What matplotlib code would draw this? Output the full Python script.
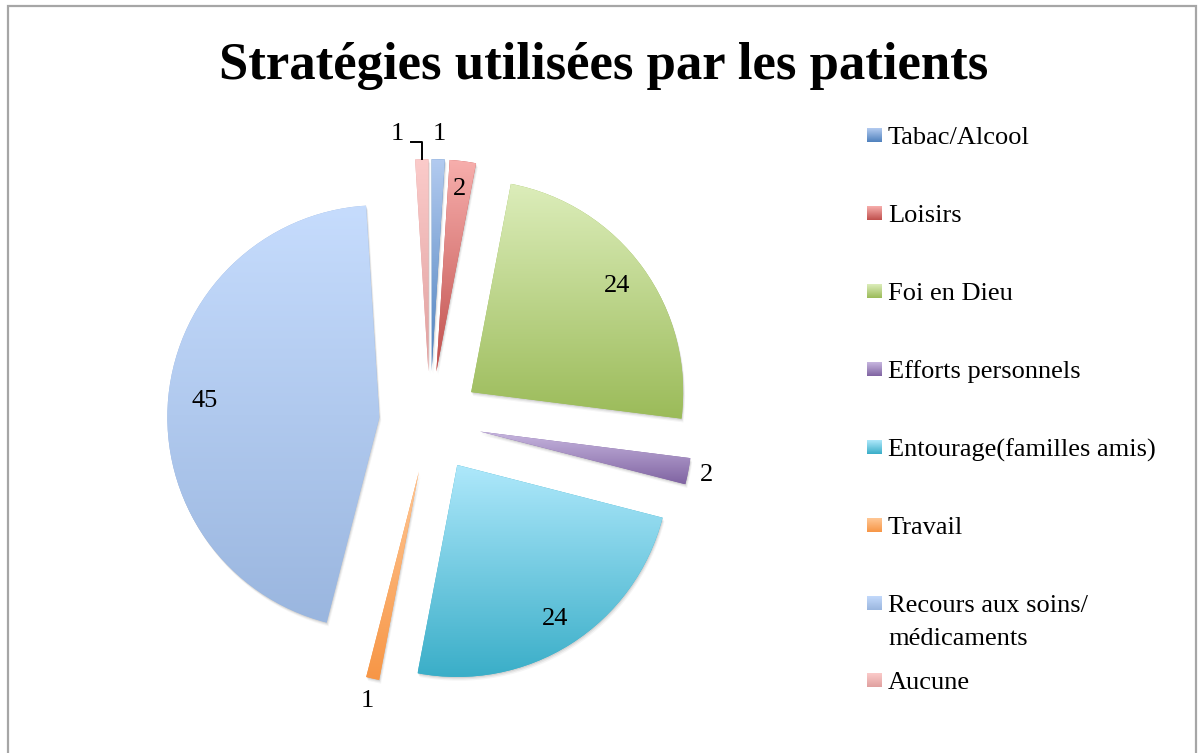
import numpy as np
import matplotlib
matplotlib.use("Agg")
import matplotlib.pyplot as plt
from matplotlib.patches import Wedge, Rectangle
from matplotlib.colors import LinearSegmentedColormap

# data
categories = ["Tabac/Alcool", "Loisirs", "Foi en Dieu", "Efforts personnels",
              "Entourage(familles amis)", "Travail",
              "Recours aux soins/\nmédicaments", "Aucune"]
values = [1, 2, 24, 2, 24, 1, 45, 1]

# gradient colours (top, bottom) for each slice
top_colors = ["#b3cbf0", "#f7aeac", "#dcedba", "#c7b6df", "#aee8fb", "#ffc795", "#c6dcfd", "#fbcbca"]
bottom_colors = ["#4f81bd", "#c0504d", "#9bbb59", "#8064a2", "#3aaec8", "#f79646", "#9ab6df", "#e0a09f"]

W, H = 1200, 753
R = 212.0            # pie radius in pixels
CX, CY = 430, 422    # pie centre in pixels (from top-left)
FONT = "Liberation Serif"

fig = plt.figure(figsize=(W / 100, H / 100), dpi=100)
ax = fig.add_axes([0, 0, 1, 1])

def fx(x):
    return x / W

def fy(y):
    return 1 - y / H

wedges, _ = ax.pie(values, startangle=90, counterclock=False, radius=1,
                   explode=[0.24] * len(values),
                   wedgeprops=dict(linewidth=0))

for i, w in enumerate(wedges):
    # soft shadow
    for k, a in [(0.018, 0.04), (0.012, 0.06), (0.006, 0.08)]:
        sh = Wedge((w.center[0] + k * 0.5, w.center[1] - k), w.r, w.theta1, w.theta2,
                   facecolor="black", alpha=a, linewidth=0, zorder=0.5)
        ax.add_patch(sh)
    w.set_facecolor(bottom_colors[i])
    w.set_zorder(1)
    ext = w.get_path().get_extents()
    cmap = LinearSegmentedColormap.from_list("g%d" % i, [bottom_colors[i], top_colors[i]])
    grad = np.linspace(0, 1, 256).reshape(-1, 1)
    im = ax.imshow(grad, extent=[ext.x0, ext.x1, ext.y0, ext.y1], origin="lower",
                   cmap=cmap, aspect="auto", zorder=2, interpolation="bilinear")
    im.set_clip_path(w)

# data labels
label_dist = [1.12, 0.87, 0.85, 1.09, 0.86, 1.11, 0.83, 1.13]
label_shift = [0, 0, 0, 0, 0, 0, 0, 5.6]
for i, w in enumerate(wedges):
    ang = np.deg2rad((w.theta1 + w.theta2) / 2 + label_shift[i])
    x = w.center[0] + label_dist[i] * np.cos(ang)
    y = w.center[1] + label_dist[i] * np.sin(ang)
    ax.text(x, y, str(values[i]), ha="center", va="center", fontsize=19,
            family=FONT, color="black", zorder=5)
    if label_shift[i]:
        mid = np.deg2rad((w.theta1 + w.theta2) / 2)
        ex = w.center[0] + np.cos(mid)
        ey = w.center[1] + np.sin(mid)
        ly = y - 8 / R
        ax.plot([x + 13 / R, ex, ex], [ly, ly, ey], color="black", lw=1.4, zorder=5)

ax.set_xlim(-CX / R, (W - CX) / R)
ax.set_ylim(-(H - CY) / R, CY / R)
ax.set_aspect("equal")
ax.axis("off")

# title
fig.text(fx(604), fy(66), "Stratégies utilisées par les patients", ha="center", va="center",
         fontsize=38, fontweight="bold", family=FONT)

# legend
leg_y = [135, 213, 291, 369, 447, 525, 603, 680]
for i, lab in enumerate(categories):
    y = leg_y[i]
    cmap = LinearSegmentedColormap.from_list("l%d" % i, [bottom_colors[i], top_colors[i]])
    lax = fig.add_axes([fx(867), fy(y + 7), 15 / W, 14 / H])
    lax.imshow(np.linspace(0, 1, 64).reshape(-1, 1), origin="lower", cmap=cmap, aspect="auto")
    lax.axis("off")
    for j, line in enumerate(lab.split("\n")):
        fig.text(fx(888), fy(y + 3 + 33 * j), line, ha="left", va="center", fontsize=19,
                 family=FONT)

# chart border
fig.patches.append(Rectangle((fx(8), fy(H + 10)), fx(1196) - fx(8), fy(6) - fy(H + 10),
                             transform=fig.transFigure, fill=False, edgecolor="#a6a6a6",
                             linewidth=1.6, zorder=10))

fig.savefig("out.png", dpi=100)
